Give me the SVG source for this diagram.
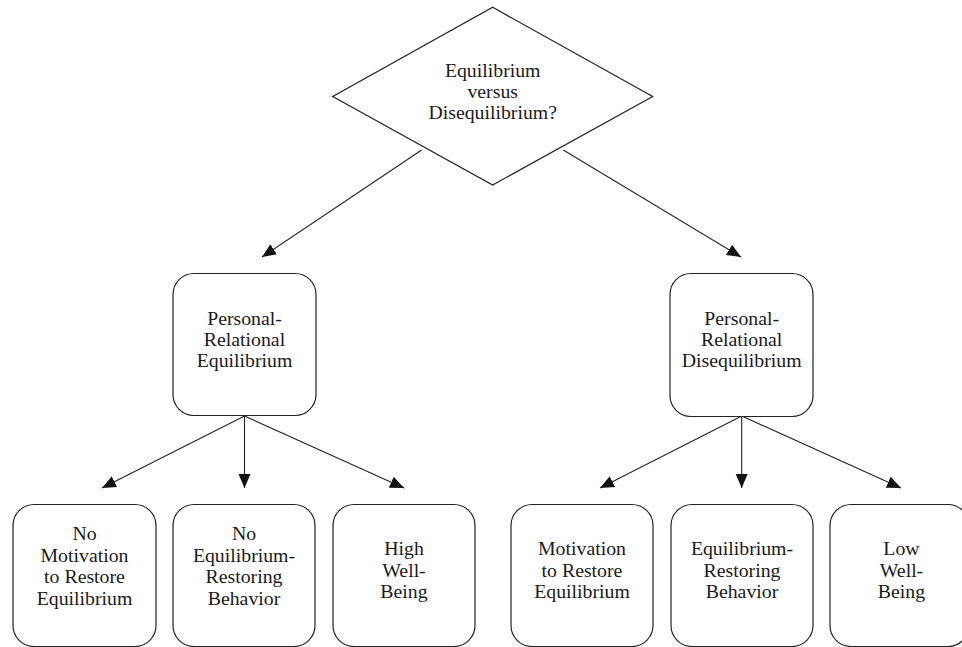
<svg xmlns="http://www.w3.org/2000/svg" width="962" height="647" viewBox="0 0 962 647">
<style>
.shape{fill:#fff;stroke:#222;stroke-width:1.2}
.conn{stroke:#222;stroke-width:1.1;fill:none}
</style>
<defs>
<marker id="ah" markerUnits="userSpaceOnUse" markerWidth="14" markerHeight="14" viewBox="0 0 14 12" refX="14" refY="6" orient="auto">
<path d="M0,0 L14,6 L0,12 z" fill="#111"/>
</marker>
</defs>
<rect width="962" height="647" fill="#fff"/>
<g id="connectors">
<line class="conn" x1="421.7" y1="150" x2="262" y2="257" marker-end="url(#ah)"/>
<line class="conn" x1="563.3" y1="150" x2="741" y2="257" marker-end="url(#ah)"/>
<line class="conn" x1="244.5" y1="416" x2="102" y2="488" marker-end="url(#ah)"/>
<line class="conn" x1="244.5" y1="416" x2="244.5" y2="488" marker-end="url(#ah)"/>
<line class="conn" x1="244.5" y1="416" x2="404" y2="488" marker-end="url(#ah)"/>
<line class="conn" x1="741.7" y1="416" x2="600" y2="488" marker-end="url(#ah)"/>
<line class="conn" x1="741.7" y1="416" x2="741.7" y2="488" marker-end="url(#ah)"/>
<line class="conn" x1="741.7" y1="416" x2="901" y2="488" marker-end="url(#ah)"/>
</g>
<g font-family="Liberation Serif" font-size="19.8" fill="#1a1a1a" text-anchor="middle">
<g id="decision">
<polygon class="shape" points="492.7,7.3 652.7,96.5 492.7,185 332.7,96.5"/>
<text x="492.7" y="76.5">Equilibrium</text>
<text x="492.7" y="97.5">versus</text>
<text x="492.7" y="118.5">Disequilibrium?</text>
</g>
<g id="equilibrium">
<rect class="shape" x="173" y="273.5" width="143" height="142" rx="21"/>
<text x="244.5" y="325">Personal-</text>
<text x="244.5" y="346">Relational</text>
<text x="244.5" y="367">Equilibrium</text>
</g>
<g id="disequilibrium">
<rect class="shape" x="670" y="273.5" width="143" height="143" rx="21"/>
<text x="741.7" y="325">Personal-</text>
<text x="741.7" y="346">Relational</text>
<text x="741.7" y="367">Disequilibrium</text>
</g>
<g id="no-motivation">
<rect class="shape" x="13" y="504.5" width="143" height="142" rx="21"/>
<text x="84.5" y="540">No</text>
<text x="84.5" y="561.5">Motivation</text>
<text x="84.5" y="583">to Restore</text>
<text x="84.5" y="604.5">Equilibrium</text>
</g>
<g id="no-restoring">
<rect class="shape" x="173" y="504.5" width="142" height="142" rx="21"/>
<text x="244" y="540">No</text>
<text x="244" y="561.5">Equilibrium-</text>
<text x="244" y="583">Restoring</text>
<text x="244" y="604.5">Behavior</text>
</g>
<g id="high-wellbeing">
<rect class="shape" x="333" y="504.5" width="142" height="142" rx="21"/>
<text x="404" y="555">High</text>
<text x="404" y="576.5">Well-</text>
<text x="404" y="598">Being</text>
</g>
<g id="motivation">
<rect class="shape" x="511" y="504.5" width="142" height="142" rx="21"/>
<text x="582" y="555">Motivation</text>
<text x="582" y="576.5">to Restore</text>
<text x="582" y="598">Equilibrium</text>
</g>
<g id="restoring">
<rect class="shape" x="671" y="504.5" width="142" height="142" rx="21"/>
<text x="742" y="555">Equilibrium-</text>
<text x="742" y="576.5">Restoring</text>
<text x="742" y="598">Behavior</text>
</g>
<g id="low-wellbeing">
<rect class="shape" x="830" y="504.5" width="139" height="142" rx="21"/>
<text x="901.5" y="555">Low</text>
<text x="901.5" y="576.5">Well-</text>
<text x="901.5" y="598">Being</text>
</g>
</g>
</svg>
